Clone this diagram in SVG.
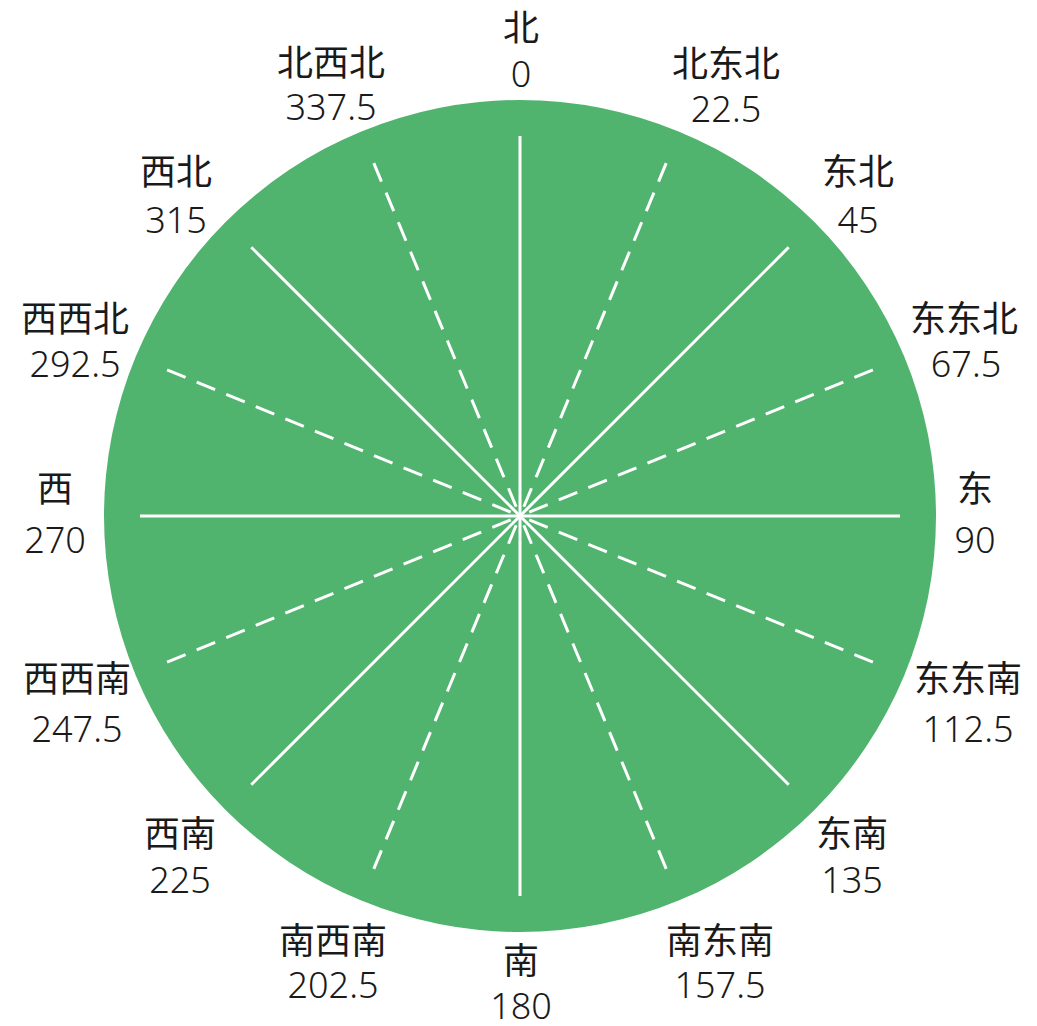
<svg xmlns="http://www.w3.org/2000/svg" width="1037" height="1026" viewBox="0 0 1037 1026">
<style>
.lbl{font-family:"Noto Sans CJK SC","Noto Sans",sans-serif;font-size:36px;font-weight:400;fill:#1a1a1a;text-anchor:middle}
.num{font-family:"Noto Sans","Noto Sans CJK SC",sans-serif;font-size:36px;font-weight:300;fill:#1a1a1a;text-anchor:middle}
.solid{stroke:#ffffff;stroke-width:3;fill:none}
.dash{stroke:#ffffff;stroke-width:3;fill:none;stroke-dasharray:20 12}
</style>
<rect width="1037" height="1026" fill="#ffffff"/>
<g id="dial">
<circle cx="520" cy="516" r="416" fill="#50b46f"/>
</g>
<g id="connectors">
<line class="solid" x1="520" y1="516" x2="520" y2="136"/>
<line class="solid" x1="520" y1="516" x2="900" y2="516"/>
<line class="solid" x1="520" y1="516" x2="520" y2="896"/>
<line class="solid" x1="520" y1="516" x2="140" y2="516"/>
<line class="solid" x1="520" y1="516" x2="788.7" y2="247.3"/>
<line class="solid" x1="520" y1="516" x2="788.7" y2="784.7"/>
<line class="solid" x1="520" y1="516" x2="251.3" y2="784.7"/>
<line class="solid" x1="520" y1="516" x2="251.3" y2="247.3"/>
<line class="dash" x1="666.2" y1="163.1" x2="520" y2="516"/>
<line class="dash" x1="872.9" y1="369.8" x2="520" y2="516"/>
<line class="dash" x1="872.9" y1="662.2" x2="520" y2="516"/>
<line class="dash" x1="666.2" y1="868.9" x2="520" y2="516"/>
<line class="dash" x1="373.8" y1="868.9" x2="520" y2="516"/>
<line class="dash" x1="167.1" y1="662.2" x2="520" y2="516"/>
<line class="dash" x1="167.1" y1="369.8" x2="520" y2="516"/>
<line class="dash" x1="373.8" y1="163.1" x2="520" y2="516"/>
</g>
<g id="n-0"><text class="lbl" x="521" y="41">北</text><text class="num" x="521" y="87">0</text></g>
<g id="n-22-5"><text class="lbl" x="726" y="77">北东北</text><text class="num" x="726" y="122">22.5</text></g>
<g id="n-45"><text class="lbl" x="858" y="185">东北</text><text class="num" x="858" y="233">45</text></g>
<g id="n-67-5"><text class="lbl" x="964" y="332">东东北</text><text class="num" x="966" y="377">67.5</text></g>
<g id="n-90"><text class="lbl" x="975" y="502">东</text><text class="num" x="975" y="553">90</text></g>
<g id="n-112-5"><text class="lbl" x="968" y="692">东东南</text><text class="num" x="968" y="742">112.5</text></g>
<g id="n-135"><text class="lbl" x="852" y="847">东南</text><text class="num" x="852" y="893">135</text></g>
<g id="n-157-5"><text class="lbl" x="720" y="954">南东南</text><text class="num" x="720" y="998">157.5</text></g>
<g id="n-180"><text class="lbl" x="521" y="974">南</text><text class="num" x="521" y="1019">180</text></g>
<g id="n-202-5"><text class="lbl" x="333" y="954">南西南</text><text class="num" x="333" y="998">202.5</text></g>
<g id="n-225"><text class="lbl" x="180" y="847">西南</text><text class="num" x="180" y="893">225</text></g>
<g id="n-247-5"><text class="lbl" x="77" y="692">西西南</text><text class="num" x="77" y="742">247.5</text></g>
<g id="n-270"><text class="lbl" x="55" y="502">西</text><text class="num" x="55" y="553">270</text></g>
<g id="n-292-5"><text class="lbl" x="75" y="332">西西北</text><text class="num" x="75" y="377">292.5</text></g>
<g id="n-315"><text class="lbl" x="176" y="185">西北</text><text class="num" x="176" y="233">315</text></g>
<g id="n-337-5"><text class="lbl" x="331" y="76">北西北</text><text class="num" x="331" y="120">337.5</text></g>
</svg>
